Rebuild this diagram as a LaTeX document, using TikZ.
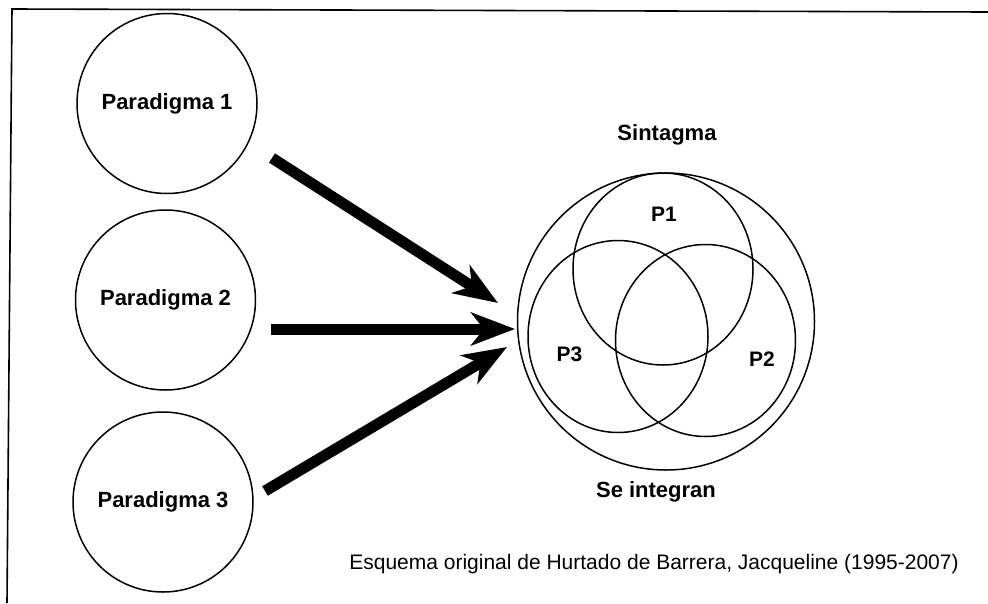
\documentclass[tikz,border=0pt]{standalone}
\usepackage{fontspec}
\setmainfont{Liberation Sans}
\usetikzlibrary{arrows.meta,shapes.geometric}
\begin{document}
\begin{tikzpicture}[x=1pt,y=-1pt,
  frameline/.style={line width=1.6pt},
  paradigm/.style={circle,draw,line width=1.5pt,minimum size=180pt,inner sep=0pt,
    font=\fontsize{22}{26}\selectfont\bfseries},
  venn/.style={ellipse,draw,line width=1.5pt,minimum width=180pt,minimum height=192pt,inner sep=0pt},
  outerc/.style={circle,draw,line width=1.5pt,minimum size=297pt,inner sep=0pt},
  lbl/.style={anchor=base,inner sep=0pt,font=\fontsize{22}{26}\selectfont\bfseries},
  plbl/.style={anchor=base,inner sep=0pt,font=\fontsize{21}{25}\selectfont\bfseries},
  caption/.style={anchor=base,inner sep=0pt,font=\fontsize{21}{25}\selectfont},
  bigarrow/.style={line width=11pt,line cap=butt,
    -{Stealth[length=44pt,width=33pt,inset=13pt]}}]
\useasboundingbox (0,0) rectangle (988,603);
% frame
\coordinate (fr1) at (12,9);
\coordinate (fr2) at (988,12);
\coordinate (fr3) at (7,603);
\draw[frameline] (fr2) -- (fr1) -- (fr3);
% paradigm circles
\node[paradigm] (par1) at (167,103.5) {Paradigma 1};
\node[paradigm] (par2) at (165.5,300) {Paradigma 2};
\node[paradigm] (par3) at (163,502) {Paradigma 3};
% sintagma
\node[outerc] (outer) at (666,321.5) {};
\node[venn] (v1) at (663,269) {};
\node[venn] (v3) at (618,336.5) {};
\node[venn] (v2) at (705.5,340.5) {};
\node[plbl] (l1) at (664,221) {P1};
\node[plbl] (l3) at (569.5,361) {P3};
\node[plbl] (l2) at (762,366) {P2};
\node[lbl] (sint) at (667,140) {Sintagma};
\node[lbl] (integ) at (656,497) {Se integran};
\node[caption] (cap) at (654,569) {Esquema original de Hurtado de Barrera, Jacqueline (1995-2007)};
% arrows
\coordinate (a1s) at (272,158);
\coordinate (a1e) at (498,303);
\coordinate (a2s) at (271,329);
\coordinate (a2e) at (515,329);
\coordinate (a3s) at (265,491);
\coordinate (a3e) at (507,347);
\draw[bigarrow] (a1s) -- (a1e);
\draw[bigarrow] (a2s) -- (a2e);
\draw[bigarrow] (a3s) -- (a3e);
\end{tikzpicture}
\end{document}
